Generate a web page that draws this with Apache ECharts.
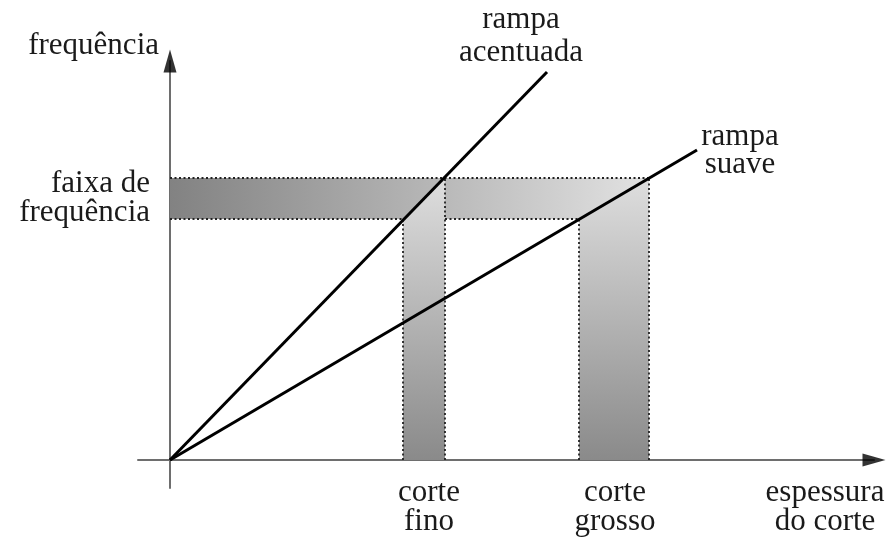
<!DOCTYPE html>
<html><head><meta charset="utf-8">
<script src="https://cdn.jsdelivr.net/npm/echarts@6/dist/echarts.min.js"></script>
<style>html,body{margin:0;padding:0;background:#fff}#c{width:891px;height:537px}</style>
</head><body><div id="c"></div>
<script>
// values in arbitrary units (origin = 0,0)
var steepRamp = [[0, 0], [377, 388]];      // rampa acentuada
var gentleRamp = [[0, 0], [527, 310]];     // rampa suave
var freqBand = [241, 282];                 // faixa de frequência (y range)
var thinCut = [233, 275];                  // corte fino (x range)
var thickCut = [409, 479];                 // corte grosso (x range)
var bandEnd = 479;
var axisX = [-32, 704];
var axisY = [-28, 399];

var FONT = "'Liberation Serif','DejaVu Serif',serif";
var slope = function (r) { return r[1][1] / r[1][0]; };

var chart = echarts.init(document.getElementById('c'), null, {renderer: 'canvas'});

function bandItem(params, api) {
  var p0 = api.coord([0, freqBand[1]]);
  var p1 = api.coord([bandEnd, freqBand[0]]);
  return {type: 'rect', shape: {x: p0[0], y: p0[1], width: p1[0] - p0[0], height: p1[1] - p0[1]},
    style: {fill: new echarts.graphic.LinearGradient(0, 0, 1, 0, [
      {offset: 0, color: '#828282'}, {offset: 1, color: '#e2e2e2'}])}};
}
function colItem(range, ramp) {
  var s = slope(ramp);
  var pts = [[range[0], 0], [range[0], Math.min(s * range[0], freqBand[1])],
             [range[1], Math.min(s * range[1], freqBand[1])], [range[1], 0]];
  return function (params, api) {
    return {type: 'polygon', shape: {points: pts.map(function (p) { return api.coord(p); })},
      style: {fill: new echarts.graphic.LinearGradient(0, 1, 0, 0, [
        {offset: 0, color: '#8a8a8a'}, {offset: 1, color: '#dedede'}])}};
  };
}
var dotted = [
  [[0, freqBand[1]], [bandEnd, freqBand[1]]],
  [[0, freqBand[0]], [thinCut[0], freqBand[0]]],
  [[thinCut[1], freqBand[0]], [thickCut[0], freqBand[0]]],
  [[thinCut[0], 0], [thinCut[0], freqBand[0]]],
  [[thinCut[1], 0], [thinCut[1], freqBand[1]]],
  [[thickCut[0], 0], [thickCut[0], freqBand[0]]],
  [[thickCut[1], 0], [thickCut[1], freqBand[1]]]
];
function dottedItem(params, api) {
  return {type: 'group', children: dotted.map(function (seg) {
    var a = api.coord(seg[0]), b = api.coord(seg[1]);
    return {type: 'line', shape: {x1: a[0], y1: a[1], x2: b[0], y2: b[1]},
      style: {stroke: '#222', lineWidth: 1.8, lineDash: [2, 2.5]}};
  })};
}
function txt(t, x, y, align) {
  return {type: 'text', x: x, y: y, style: {text: t, font: '31px ' + FONT, fill: '#1a1a1a',
    textAlign: align || 'center', textVerticalAlign: 'middle'}};
}

chart.setOption({
  animation: false,
  grid: {left: 138, right: 17, top: 61, bottom: 49},
  xAxis: {type: 'value', min: axisX[0], max: axisX[1], splitLine: {show: false},
    axisTick: {show: false}, axisLabel: {show: false},
    axisLine: {lineStyle: {color: '#6e6e6e', width: 2}}},
  yAxis: {type: 'value', min: axisY[0], max: axisY[1], splitLine: {show: false},
    axisTick: {show: false}, axisLabel: {show: false},
    axisLine: {lineStyle: {color: '#6e6e6e', width: 2}}},
  series: [
    {type: 'custom', renderItem: bandItem, data: [0], silent: true, z: 1},
    {type: 'custom', renderItem: colItem(thinCut, steepRamp), data: [0], silent: true, z: 2},
    {type: 'custom', renderItem: colItem(thickCut, gentleRamp), data: [0], silent: true, z: 2},
    {type: 'custom', renderItem: dottedItem, data: [0], silent: true, z: 3},
    {type: 'line', data: steepRamp, showSymbol: false, lineStyle: {color: '#000', width: 3}, z: 5},
    {type: 'line', data: gentleRamp, showSymbol: false, lineStyle: {color: '#000', width: 3}, z: 5},
    {type: 'scatter', data: [[axisX[1], 0]], symbol: 'triangle', symbolSize: [13, 23], symbolRotate: -90,
      itemStyle: {color: '#000'}, z: 6},
    {type: 'scatter', data: [[0, axisY[1]]], symbol: 'triangle', symbolSize: [13, 23],
      itemStyle: {color: '#000'}, z: 6}
  ],
  graphic: [
    txt('frequência', 159, 46, 'right'),
    txt('rampa', 521, 20), txt('acentuada', 521, 53),
    txt('rampa', 740, 137), txt('suave', 740, 165),
    txt('faixa de', 150, 184, 'right'), txt('frequência', 150, 213, 'right'),
    txt('corte', 429, 493), txt('fino', 429, 522),
    txt('corte', 615, 493), txt('grosso', 615, 522),
    txt('espessura', 825, 493), txt('do corte', 825, 522)
  ]
});
</script></body></html>
